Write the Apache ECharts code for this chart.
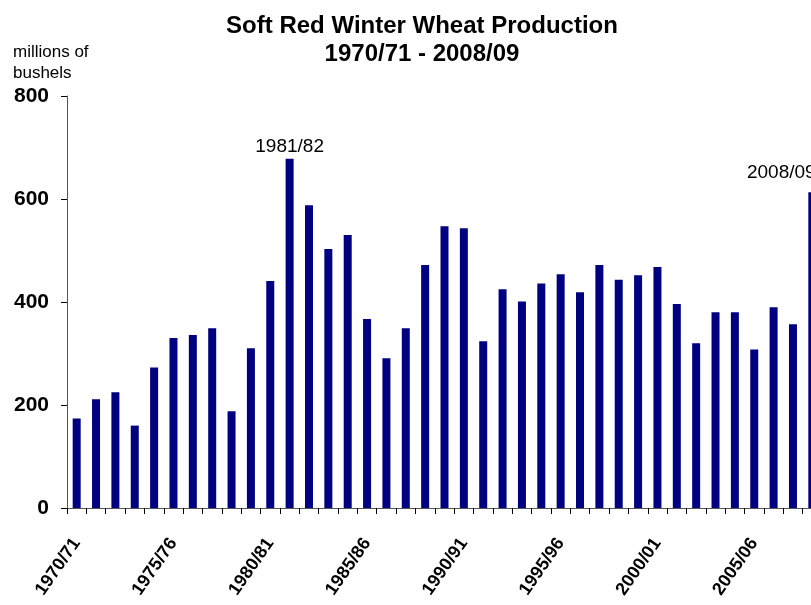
<!DOCTYPE html>
<html>
<head>
<meta charset="utf-8">
<script src="https://cdn.jsdelivr.net/npm/echarts@6/dist/echarts.min.js"></script>
<style>
  html, body { margin: 0; padding: 0; background: #fff; }
  #chart { width: 811px; height: 605px; }
</style>
</head>
<body>
<div id="chart"></div>
<script>
const years = [
  "1970/71", "1971/72", "1972/73", "1973/74", "1974/75", "1975/76", "1976/77", "1977/78",
  "1978/79", "1979/80", "1980/81", "1981/82", "1982/83", "1983/84", "1984/85", "1985/86",
  "1986/87", "1987/88", "1988/89", "1989/90", "1990/91", "1991/92", "1992/93", "1993/94",
  "1994/95", "1995/96", "1996/97", "1997/98", "1998/99", "1999/00", "2000/01", "2001/02",
  "2002/03", "2003/04", "2004/05", "2005/06", "2006/07", "2007/08", "2008/09"
];
const production = [
  174, 211, 225, 160, 273, 330, 336, 349,
  188, 310, 441, 678, 588, 503, 530, 367,
  291, 349, 472, 547, 543, 324, 425, 401,
  436, 454, 419, 472, 443, 452, 468, 396,
  320, 380, 380, 308, 390, 357, 613
];
const yTicks = [0, 200, 400, 600, 800];
const callouts = { "1981/82": [0, 0], "2008/09": [-31, -7] };

const font = "Liberation Sans, Arial, sans-serif";

const barData = production.map((v, i) => {
  const yr = years[i];
  if (!callouts[yr]) return v;
  return {
    value: v,
    label: {
      show: true,
      position: "top",
      formatter: yr,
      offset: callouts[yr],
      distance: 3,
      color: "#000",
      fontFamily: font,
      fontSize: 19
    }
  };
});

const chart = echarts.init(document.getElementById("chart"));
chart.setOption({
  animation: false,
  backgroundColor: "#fff",
  title: [
    {
      text: "Soft Red Winter Wheat Production\n1970/71 - 2008/09",
      left: 417,
      textAlign: "center",
      top: 7,
      textStyle: { fontFamily: font, fontSize: 24, fontWeight: "bold", color: "#000", lineHeight: 28 }
    },
    {
      text: "millions of\nbushels",
      left: 8,
      top: 37,
      textStyle: { fontFamily: font, fontSize: 17, fontWeight: "normal", color: "#000", lineHeight: 21 }
    }
  ],
  grid: { left: 67, width: 755, top: 96, bottom: 97, outerBoundsMode: "none", containLabel: false },
  xAxis: {
    type: "category",
    data: years,
    boundaryGap: true,
    axisLine: { lineStyle: { color: "#555", width: 1 } },
    axisTick: { show: true, interval: 0, length: 6, lineStyle: { color: "#000" } },
    axisLabel: {
      interval: 4,
      rotate: 55,
      margin: 32,
      fontFamily: font,
      fontSize: 18,
      fontWeight: "bold",
      color: "#000"
    },
    splitLine: { show: false }
  },
  yAxis: {
    type: "value",
    min: yTicks[0],
    max: yTicks[yTicks.length - 1],
    interval: 200,
    axisLine: { show: true, lineStyle: { color: "#555", width: 1 } },
    axisTick: { show: true, length: 6, inside: false, lineStyle: { color: "#000" } },
    axisLabel: {
      margin: 18,
      fontFamily: font,
      fontSize: 21,
      fontWeight: "bold",
      color: "#000"
    },
    splitLine: { show: false }
  },
  series: [
    {
      type: "bar",
      data: barData,
      barWidth: 8,
      itemStyle: { color: "#000080" }
    }
  ]
});
</script>
</body>
</html>
